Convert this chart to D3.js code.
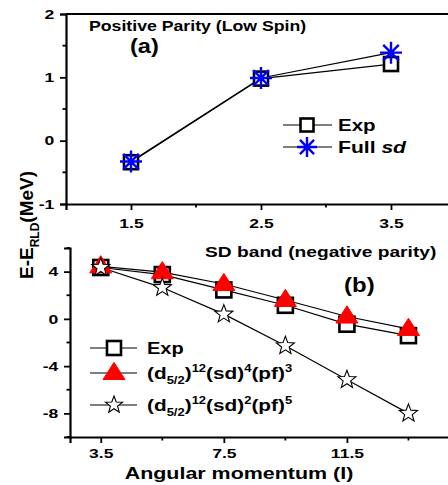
<!DOCTYPE html>
<html>
<head>
<meta charset="utf-8">
<script src="https://cdn.jsdelivr.net/npm/d3@7"></script>
<style>
  body { margin: 0; background: #fff; }
  svg { display: block; font-family: Arial, "Liberation Sans", sans-serif; font-weight: bold; }
</style>
</head>
<body>
<script>
// panel (a) data
var spinA = [1.5, 2.5, 3.5],
    expA = [-0.34, 0.98, 1.21],
    fullSdA = [-0.33, 0.99, 1.39];

// panel (b) data
var spinB = [3.5, 5.5, 7.5, 9.5, 11.5, 13.5],
    expB = [4.35, 3.75, 2.45, 1.15, -0.45, -1.42],
    pf3B = [4.45, 3.95, 2.95, 1.6, 0.2, -0.85],
    pf5B = [4.35, 2.65, 0.4, -2.28, -5.15, -8.0];

var ticksAX = [1.5, 2.5, 3.5], ticksAY = [-1, 0, 1, 2];
var ticksBX = [3.5, 7.5, 11.5], ticksBY = [-8, -4, 0, 4];

var width = 448, height = 485;

var svg = d3.select("body").append("svg")
    .attr("width", width)
    .attr("height", height);

// ---- scales
var xA = d3.scaleLinear().domain([1, 4]).range([66, 456]);
var yA = d3.scaleLinear().domain([-1, 2]).range([204, 14]);
var xB = d3.scaleLinear().domain([2.5, 15.5]).range([70, 470]);
var yB = d3.scaleLinear().domain([-10, 6]).range([437, 248]);

// the original's lettering is a bit wide, so stretch text horizontally
function label(g, x, y, size, sx) {
    return g.append("text")
        .attr("transform", "translate(" + x + "," + y + ") scale(" + sx + ",1)")
        .attr("font-size", size);
}

// ---- marker helpers
function square(g, x, y, s) {
    g.append("rect")
        .attr("x", x - s / 2).attr("y", y - s / 2)
        .attr("width", s).attr("height", s)
        .attr("fill", "#fff").attr("stroke", "#000").attr("stroke-width", 2.6);
}
function asterisk(g, x, y, r) {
    var d = r * Math.SQRT1_2;
    g.append("path")
        .attr("d", "M" + (x - r) + "," + y + "H" + (x + r) +
            "M" + x + "," + (y - r) + "V" + (y + r) +
            "M" + (x - d) + "," + (y - d) + "L" + (x + d) + "," + (y + d) +
            "M" + (x - d) + "," + (y + d) + "L" + (x + d) + "," + (y - d))
        .attr("stroke", "#0000ff").attr("stroke-width", 2.4).attr("fill", "none");
}
function triangle(g, x, y, w) {
    var h = w * 0.78;
    g.append("path")
        .attr("d", "M" + x + "," + (y - h * 0.62) + "L" + (x + w / 2) + "," + (y + h * 0.38) +
            "L" + (x - w / 2) + "," + (y + h * 0.38) + "Z")
        .attr("fill", "#ff0000").attr("stroke", "#ff0000").attr("stroke-width", 1);
}
function star(g, x, y, r) {
    var pts = [];
    for (var i = 0; i < 10; i++) {
        var rr = i % 2 ? r * 0.42 : r,
            a = -Math.PI / 2 + i * Math.PI / 5;
        pts.push([x + rr * Math.cos(a), y + rr * Math.sin(a)]);
    }
    g.append("path")
        .attr("d", "M" + pts.join("L") + "Z")
        .attr("fill", "#fff").attr("stroke", "#000").attr("stroke-width", 1.1);
}

// plain hyphen for negatives, like the original
var intFmt = function (d) { return String(d); };

function drawAxes(g, x, y, xt, yt, xMinor, yMinor, xPad, topLine) {
    var xAxis = d3.axisBottom(x).tickValues(xt).tickSize(6).tickPadding(xPad).tickFormat(d3.format(".1f"));
    var yAxis = d3.axisLeft(y).tickValues(yt).tickSize(6).tickPadding(3).tickFormat(intFmt);
    var gx = g.append("g").attr("transform", "translate(0," + y.range()[0] + ")").call(xAxis);
    var gy = g.append("g").attr("transform", "translate(" + x.range()[0] + ",0)").call(yAxis);
    [gx, gy].forEach(function (a) {
        a.select(".domain").attr("stroke-width", 2.2);
        a.selectAll(".tick line").attr("stroke-width", 1.8);
        a.selectAll("text").attr("font-size", 13.5).attr("font-weight", "bold").attr("fill", "#000")
            .attr("transform", "scale(1.3,1)");
    });
    // minor ticks
    g.selectAll(null).data(xMinor).enter().append("line")
        .attr("x1", x).attr("x2", x)
        .attr("y1", y.range()[0]).attr("y2", y.range()[0] + 3.5)
        .attr("stroke", "#000").attr("stroke-width", 1.8);
    g.selectAll(null).data(yMinor).enter().append("line")
        .attr("y1", y).attr("y2", y)
        .attr("x1", x.range()[0]).attr("x2", x.range()[0] - 3.5)
        .attr("stroke", "#000").attr("stroke-width", 1.8);
    if (topLine) {
        g.append("line")
            .attr("x1", x.range()[0]).attr("x2", x.range()[1])
            .attr("y1", y.range()[1]).attr("y2", y.range()[1])
            .attr("stroke", "#000").attr("stroke-width", 2.2);
    }
}

var line = function (x, y, xs, ys) {
    return d3.line().x(function (d, i) { return x(xs[i]); }).y(function (d) { return y(d); })(ys);
};

// ================= panel (a)
var gA = svg.append("g");
drawAxes(gA, xA, yA, ticksAX, ticksAY, [2, 3], [-0.5, 0.5, 1.5], 8, true);

[expA, fullSdA].forEach(function (s) {
    gA.append("path").attr("d", line(xA, yA, spinA, s))
        .attr("fill", "none").attr("stroke", "#000").attr("stroke-width", 1.2);
});
spinA.forEach(function (v, i) { square(gA, xA(v), yA(expA[i]), 14); });
spinA.forEach(function (v, i) { asterisk(gA, xA(v), yA(fullSdA[i]), 11); });

label(gA, 89, 31, 15, 1.18).text("Positive Parity (Low Spin)");
label(gA, 130, 53, 20, 1.18).text("(a)");

// legend (a)
var legA = gA.append("g");
[125, 147].forEach(function (yy) {
    legA.append("line").attr("x1", 283).attr("x2", 332).attr("y1", yy).attr("y2", yy)
        .attr("stroke", "#000").attr("stroke-width", 1.2);
});
square(legA, 307, 125, 13);
asterisk(legA, 307, 147, 10);
label(legA, 338, 131, 16, 1.28).text("Exp");
var tFull = label(legA, 338, 153, 16, 1.32);
tFull.append("tspan").text("Full ");
tFull.append("tspan").attr("font-style", "italic").text("sd");

// ================= panel (b)
var gB = svg.append("g");
drawAxes(gB, xB, yB, ticksBX, ticksBY, [5.5, 9.5, 13.5], [-10, -6, -2, 2, 6], 5, false);

[expB, pf3B, pf5B].forEach(function (s) {
    gB.append("path").attr("d", line(xB, yB, spinB, s))
        .attr("fill", "none").attr("stroke", "#000").attr("stroke-width", 1.2);
});
spinB.forEach(function (v, i) { square(gB, xB(v), yB(expB[i]), 15); });
spinB.forEach(function (v, i) { triangle(gB, xB(v), yB(pf3B[i]), 22); });
spinB.forEach(function (v, i) { star(gB, xB(v), yB(pf5B[i]), 9.5); });

label(gB, 205, 257, 15, 1.28).text("SD band (negative parity)");
label(gB, 344, 292, 20, 1.2).text("(b)");

// legend (b)
var legB = gB.append("g");
[348, 373, 405].forEach(function (yy) {
    legB.append("line").attr("x1", 90).attr("x2", 137).attr("y1", yy).attr("y2", yy)
        .attr("stroke", "#000").attr("stroke-width", 1.2);
});
square(legB, 114, 348, 14);
triangle(legB, 114, 373, 22);
star(legB, 114, 405, 9);
label(legB, 147, 354, 16, 1.25).text("Exp");

function formula(yy, a, b) {
    var t = label(legB, 147, yy, 16, 1.3);
    t.append("tspan").text("(d");
    t.append("tspan").attr("font-size", 10).attr("dy", 5).text("5/2");
    t.append("tspan").attr("dy", -5).text(")");
    t.append("tspan").attr("font-size", 10).attr("dy", -7).text("12");
    t.append("tspan").attr("dy", 7).text("(sd)");
    t.append("tspan").attr("font-size", 10).attr("dy", -7).text(a);
    t.append("tspan").attr("dy", 7).text("(pf)");
    t.append("tspan").attr("font-size", 10).attr("dy", -7).text(b);
}
formula(379, "4", "3");
formula(411, "2", "5");

// axis titles
label(svg, 239, 479, 16.5, 1.3).attr("text-anchor", "middle").text("Angular momentum (I)");

var yl = svg.append("text")
    .attr("transform", "translate(33,225) rotate(-90)")
    .attr("text-anchor", "middle").attr("font-size", 19);
yl.append("tspan").text("E-E");
yl.append("tspan").attr("font-size", 12).attr("dy", 6).text("RLD");
yl.append("tspan").attr("dy", -6).text("(MeV)");
</script>
</body>
</html>
